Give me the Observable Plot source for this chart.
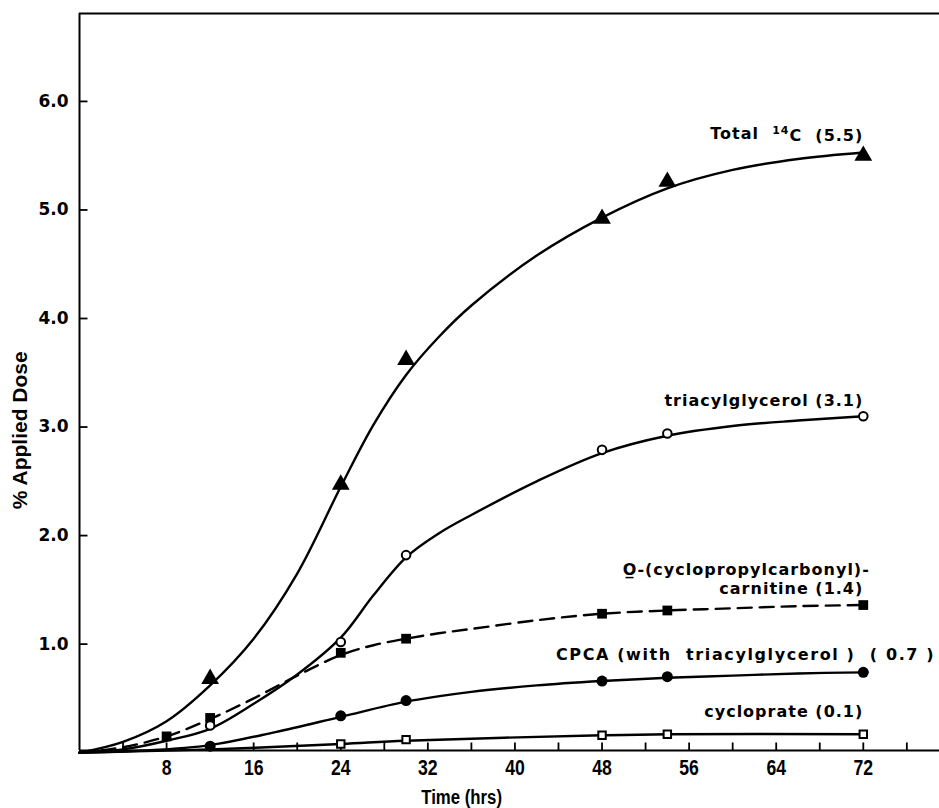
<!DOCTYPE html>
<html>
<head>
<meta charset="utf-8">
<script src="https://cdn.jsdelivr.net/npm/d3@7"></script>
<script src="https://cdn.jsdelivr.net/npm/@observablehq/plot@0.6"></script>
<style>
  html, body { margin: 0; padding: 0; background: #fff; }
  #chart { width: 939px; height: 808px; }
</style>
</head>
<body>
<div id="chart"></div>
<script>
// ---- data ----
// measured points (markers)
const hours = [12, 24, 30, 48, 54, 72];
const total14C = [0.68, 2.47, 3.62, 4.92, 5.26, 5.50];
const triacylglycerol = [0.25, 1.02, 1.82, 2.79, 2.94, 3.10];
const carnitineHours = [8, 12, 24, 30, 48, 54, 72];
const carnitine = [0.15, 0.32, 0.92, 1.05, 1.28, 1.31, 1.36];
const cpca = [0.06, 0.34, 0.48, 0.66, 0.70, 0.74];
const cycloprateHours = [24, 30, 48, 54, 72];
const cycloprate = [0.08, 0.12, 0.16, 0.17, 0.17];

// hand-drawn fitted curves
const curveHours = [0, 4, 8, 12, 16, 20, 24, 27, 30, 33, 36, 42, 48, 54, 60, 66, 72];
const totalCurve = [0, 0.10, 0.29, 0.62, 1.05, 1.65, 2.45, 3.02, 3.48, 3.83, 4.12, 4.58, 4.93, 5.20, 5.37, 5.47, 5.53];
const tagCurve = [0, 0.03, 0.11, 0.22, 0.45, 0.72, 1.06, 1.45, 1.80, 2.02, 2.19, 2.50, 2.76, 2.92, 3.01, 3.06, 3.10];
const carnCurve = [0, 0.05, 0.15, 0.31, 0.50, 0.71, 0.90, 0.99, 1.05, 1.10, 1.14, 1.22, 1.28, 1.31, 1.33, 1.35, 1.36];
const cpcaCurveHours = [0, 6, 12, 18, 24, 30, 36, 42, 48, 54, 60, 66, 72];
const cpcaCurve = [0, 0.02, 0.07, 0.19, 0.33, 0.47, 0.56, 0.62, 0.66, 0.69, 0.71, 0.73, 0.74];
const cycCurveHours = [0, 12, 24, 30, 48, 54, 72];
const cycCurve = [0, 0.03, 0.08, 0.11, 0.16, 0.17, 0.17];

// axes
const xTickLabels = [8, 16, 24, 32, 40, 48, 56, 64, 72];
const xMinorTicks = [4, 8, 12, 16, 20, 24, 28, 32, 36, 40, 44, 48, 52, 56, 60, 64, 68, 72, 76];
const yTickLabels = [1, 2, 3, 4, 5, 6];
const xDomain = [0, 79];
const yDomain = [0.02, 6.81];

// series labels
const seriesLabels = [
  "Total\u00A0 \u00B9\u2074C\u00A0 (5.5)",
  "triacylglycerol (3.1)",
  "O\u0332-(cyclopropylcarbonyl)-",
  "carnitine (1.4)",
  "CPCA (with\u00A0 triacylglycerol\u00A0)\u00A0 (\u00A00.7\u00A0)",
  "cycloprate (0.1)"
];
const seriesLabelHour = [72, 72, 72.6, 72, 78.6, 72];
const seriesLabelValue = [5.70, 3.24, 1.68, 1.51, 0.90, 0.38];

const xTitle = "Time (hrs)";
const yTitle = "% Applied Dose";

// ---- layout ----
const W = 939, H = 808, ML = 79, MR = 0, MT = 13, MB = 58;
const frameW = W - ML - MR, frameH = H - MT - MB;
const tickLen = 8;
// tick length expressed in each scale's units
const xTickUnits = tickLen * (xDomain[1] - xDomain[0]) / frameW;
const yTickUnits = tickLen * (yDomain[1] - yDomain[0]) / frameH;

// ---- build tables ----
const pts = (xs, ys) => xs.map((x, i) => ({x, y: ys[i]}));
const labelRows = seriesLabels.map((t, i) => ({t, x: seriesLabelHour[i], y: seriesLabelValue[i]}));
const xTickRows = xMinorTicks.map(x => ({x, y1: yDomain[0], y2: yDomain[0] + yTickUnits}));
const yTickRows = yTickLabels.map(y => ({y, x1: xDomain[0], x2: xDomain[0] + xTickUnits}));

const geo = "DejaVu Sans";
const grot = "'Liberation Sans', Arial, sans-serif";

const lineOpts = {x: "x", y: "y", curve: "catmull-rom", stroke: "black", strokeWidth: 2.4};

const plot = Plot.plot({
  width: W,
  height: H,
  marginLeft: ML,
  marginRight: MR,
  marginTop: MT,
  marginBottom: MB,
  x: {domain: xDomain},
  y: {domain: yDomain},
  style: {background: "white", color: "black", fontFamily: geo},
  marks: [
    // frame lines
    Plot.ruleY([yDomain[1]], {stroke: "black", strokeWidth: 2}),
    Plot.ruleY([yDomain[0]], {stroke: "black", strokeWidth: 2}),
    Plot.ruleX([xDomain[0]], {stroke: "black", strokeWidth: 2}),
    // inward tick marks
    Plot.link(xTickRows, {x1: "x", x2: "x", y1: "y1", y2: "y2", stroke: "black", strokeWidth: 1.8}),
    Plot.link(yTickRows, {x1: "x1", x2: "x2", y1: "y", y2: "y", stroke: "black", strokeWidth: 1.8}),
    // tick labels
    Plot.axisX({ticks: xTickLabels, tickSize: 0, tickPadding: 9, tickFormat: d => String(d), label: null,
      fontSize: 22, fontWeight: "bold", fontFamily: grot}),
    Plot.axisY({ticks: yTickLabels, tickSize: 0, tickPadding: 11, tickFormat: d => d.toFixed(1), label: null,
      fontSize: 17, fontWeight: "bold", fontFamily: geo}),
    // curves
    Plot.line(pts(cycCurveHours, cycCurve), lineOpts),
    Plot.line(pts(cpcaCurveHours, cpcaCurve), lineOpts),
    Plot.line(pts(curveHours, carnCurve), {...lineOpts, strokeDasharray: "14,8"}),
    Plot.line(pts(curveHours, tagCurve), lineOpts),
    Plot.line(pts(curveHours, totalCurve), lineOpts),
    // markers
    Plot.dot(pts(cycloprateHours, cycloprate), {x: "x", y: "y", symbol: "square", r: 4.2, fill: "white", stroke: "black", strokeWidth: 2}),
    Plot.dot(pts(hours, cpca), {x: "x", y: "y", symbol: "circle", r: 5.5, fill: "black", stroke: "none"}),
    Plot.dot(pts(carnitineHours, carnitine), {x: "x", y: "y", symbol: "square", r: 5.5, fill: "black", stroke: "none"}),
    Plot.dot(pts(hours, triacylglycerol), {x: "x", y: "y", symbol: "circle", r: 4.3, fill: "white", stroke: "black", strokeWidth: 2}),
    Plot.dot(pts(hours, total14C), {x: "x", y: "y", symbol: "triangle", r: 6.6, fill: "black", stroke: "none"}),
    // series labels
    Plot.text(labelRows, {x: "x", y: "y", text: "t", textAnchor: "end", lineAnchor: "middle",
      fontSize: 16, fontWeight: "bold", fontFamily: geo, fill: "black"}),
    // axis titles
    Plot.text([xTitle], {x: [35.1], frameAnchor: "bottom", textAnchor: "middle", lineAnchor: "middle", dy: 47,
      fontSize: 21, fontWeight: "bold", fontFamily: grot, fill: "black"}),
    Plot.text([yTitle], {y: [2.97], frameAnchor: "left", textAnchor: "middle", lineAnchor: "middle", dx: -59, rotate: -90,
      fontSize: 21, fontWeight: "bold", fontFamily: grot, fill: "black"})
  ]
});

// ---- typographic touches: letter spacing, superscript, condensed digits ----
const svg = d3.select(plot);
function condense(node, sx) {
  const sel = d3.select(node);
  let tr = sel.attr("transform");
  if (!tr) {
    const x = +sel.attr("x") || 0, y = +sel.attr("y") || 0;
    sel.attr("x", null).attr("y", null);
    tr = `translate(${x},${y})`;
  }
  sel.attr("transform", `${tr} scale(${sx},1)`);
}
svg.selectAll("text").each(function() {
  const txt = this.textContent;
  const idx = seriesLabels.indexOf(txt);
  if (idx >= 0) {
    d3.select(this).style("letter-spacing", idx === 4 ? "1.6px" : "1px");
    if (idx === 0) {
      const parts = txt.split("\u00B9\u2074");
      const t = d3.select(this);
      t.text(null);
      t.append("tspan").text(parts[0]);
      t.append("tspan").attr("dy", "-0.45em").style("font-size", "11px").text("14");
      t.append("tspan").attr("dy", "0.45em").text(parts[1]);
    }
  } else if (xTickLabels.map(String).includes(txt) || txt === xTitle) {
    condense(this, 0.8);
  }
});

document.getElementById("chart").appendChild(plot);
</script>
</body>
</html>
